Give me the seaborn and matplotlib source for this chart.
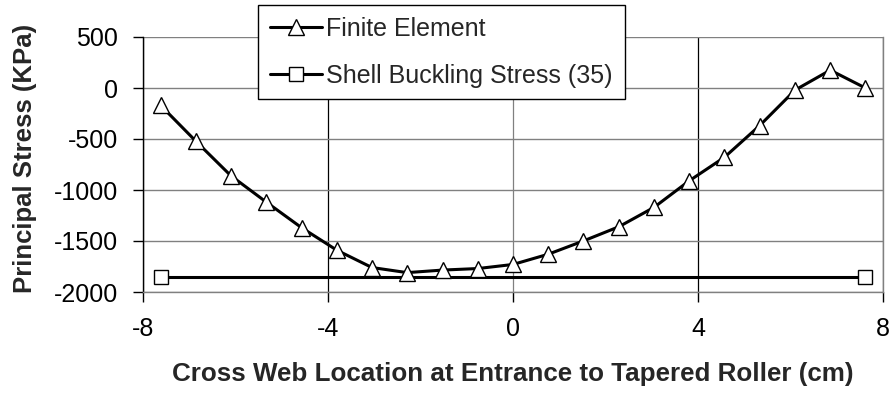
import matplotlib
matplotlib.use("Agg")
import matplotlib.pyplot as plt
import seaborn as sns
import pandas as pd

# Data
x_fe = [-7.62, -6.86, -6.10, -5.33, -4.57, -3.81, -3.05, -2.29, -1.52, -0.76, 0.0,
        0.76, 1.52, 2.29, 3.05, 3.81, 4.57, 5.33, 6.10, 6.86, 7.62]
y_fe = [-170, -520, -860, -1120, -1370, -1590, -1760, -1810, -1785, -1770, -1730,
        -1630, -1500, -1360, -1170, -910, -680, -370, -20, 175, 0]
x_sb = [-7.62, 7.62]
y_sb = [-1850, -1850]
label_fe = "Finite Element"
label_sb = "Shell Buckling Stress (35)"
x_ticks = [-8, -4, 0, 4, 8]
y_ticks = [-2000, -1500, -1000, -500, 0, 500]

sns.set_theme(style="white")
plt.rcParams["font.family"] = ["Liberation Sans", "DejaVu Sans"]

FS = 18
fig = plt.figure(figsize=(8.94, 3.93), dpi=100)
ax = fig.add_axes([143/894, 1-292/393, (883-143)/894, (292-37)/393])

df_fe = pd.DataFrame({"x": x_fe, "y": y_fe})
df_sb = pd.DataFrame({"x": x_sb, "y": y_sb})

sns.lineplot(data=df_sb, x="x", y="y", ax=ax, color="black", linewidth=2.2,
             marker="s", markersize=10, markerfacecolor="white",
             markeredgecolor="black", markeredgewidth=1.0, label=label_sb, zorder=3)
sns.lineplot(data=df_fe, x="x", y="y", ax=ax, color="black", linewidth=2.2,
             marker="^", markersize=11.5, markerfacecolor="white",
             markeredgecolor="black", markeredgewidth=1.0, label=label_fe, zorder=4)

ax.set_xlim(-8, 8)
ax.set_ylim(-2000, 500)
ax.set_xticks(x_ticks)
ax.set_yticks(y_ticks)
ax.set_xticklabels([str(t) for t in x_ticks])
ax.set_yticklabels([str(t) for t in y_ticks])

ax.grid(True, axis="y", color="#808080", linewidth=1.0)
ax.grid(True, axis="x", color="black", linewidth=0.9)
for t, gl in zip(x_ticks, ax.xaxis.get_gridlines()):
    if t == 0:
        gl.set_color("#808080")
ax.set_axisbelow(True)

for s in ["top", "right", "bottom"]:
    ax.spines[s].set_color("#808080")
    ax.spines[s].set_linewidth(1.0)
ax.spines["top"].set_visible(False)
ax.spines["left"].set_color("black")
ax.spines["left"].set_linewidth(1.0)

ax.tick_params(axis="both", which="major", direction="out", length=7, width=1,
               color="black", labelsize=FS, colors="black",
               bottom=True, left=True)
ax.tick_params(axis="y", pad=11)
ax.tick_params(axis="x", pad=10.7)

ax.set_xlabel("Cross Web Location at Entrance to Tapered Roller (cm)",
              fontsize=18.7, fontweight="bold")
ax.set_ylabel("Principal Stress (KPa)", fontsize=18.5, fontweight="bold")
ax.xaxis.set_label_coords(0.5, (292-362)/255)
ax.yaxis.set_label_coords((37-143)/740, (292-158)/255)

ax.get_legend().remove()
handles, labels = ax.get_legend_handles_labels()
order = [labels.index(label_fe), labels.index(label_sb)]
leg = fig.legend([handles[i] for i in order], [labels[i] for i in order],
                 loc="upper left", bbox_to_anchor=(258/894, 1-5/393),
                 frameon=True, fancybox=False, fontsize=FS,
                 handlelength=2.08, handletextpad=0.2, borderpad=0.46,
                 labelspacing=0.92, borderaxespad=0)
leg.get_frame().set_edgecolor("black")
leg.get_frame().set_linewidth(1.0)
leg.get_frame().set_alpha(1)

fig.savefig("out.png", dpi=100, facecolor="white")
